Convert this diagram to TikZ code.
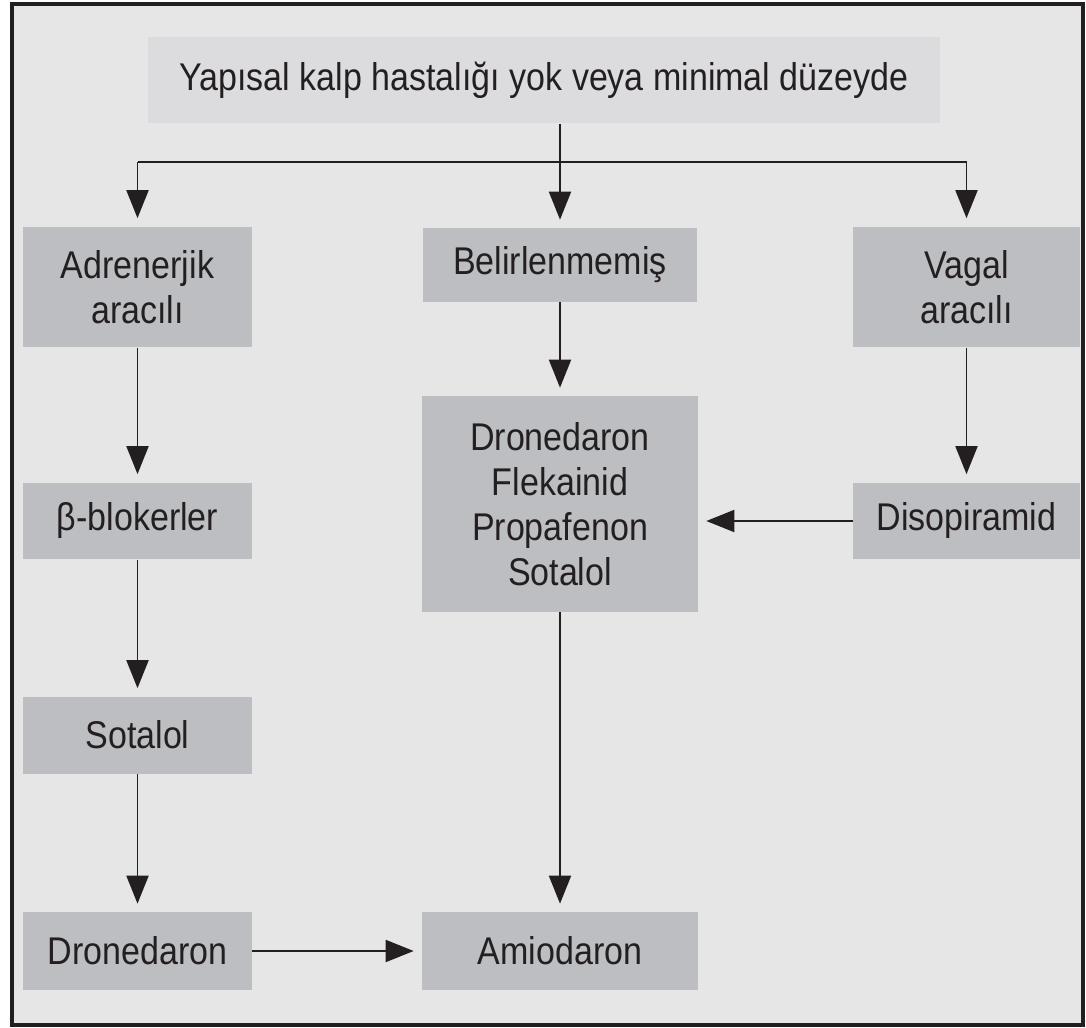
\documentclass[tikz,border=0pt]{standalone}
\usepackage{fontspec}
\setmainfont[FakeStretch=0.88]{Liberation Sans}
\usepackage{tikz}
\usetikzlibrary{arrows.meta,positioning}
\usepackage{xcolor}
\definecolor{PanelGray}{HTML}{E6E6E6}
\definecolor{TopGray}{HTML}{DCDCDE}
\definecolor{BoxGray}{HTML}{BDBEC2}
\definecolor{InkDark}{HTML}{231F20}

\begin{document}
\begin{tikzpicture}[x=0.02cm, y=-0.02cm,
      gbox/.style={fill=BoxGray, minimum width=4.58cm, minimum height=1.54cm,
                   align=center, text=InkDark, inner sep=0pt,
                   font=\fontsize{22}{25.5}\selectfont},
      flow/.style={-{Triangle[length=5.6mm,width=4.4mm]}, line width=1.1pt,
                   draw=InkDark, shorten >=0.16cm},
      node distance=0.3cm
    ]
      \useasboundingbox (0,0) rectangle (1086,1028);
      \draw[fill=PanelGray, draw=InkDark, line width=2.3pt] (12,4) rectangle (1083,1025);

      \node[gbox, fill=TopGray, minimum width=15.84cm, minimum height=1.74cm] (top) at (544,80)
        {Yapısal kalp hastalığı yok veya minimal düzeyde};

      \node[gbox, minimum height=2.42cm] (adr) at (137.5,287) {Adrenerjik\\aracılı};
      \node[gbox, minimum width=5.5cm, minimum height=1.48cm] (bel) at (560,265) {Belirlenmemiş};
      \node[gbox, minimum width=4.54cm, minimum height=2.42cm] (vag) at (966.5,287) {Vagal\\aracılı};

      \node[gbox] (blk) at (137.5,521) {β-blokerler};
      \node[gbox, minimum width=5.52cm, minimum height=4.32cm] (grp) at (560,504)
        {Dronedaron\\Flekainid\\Propafenon\\Sotalol};
      \node[gbox, minimum width=4.54cm] (dis) at (966.5,521) {Disopiramid};

      \node[gbox] (sot) at (137.5,735) {Sotalol};
      \node[gbox, minimum height=1.56cm] (dro) at (137.5,951) {Dronedaron};
      \node[gbox, minimum width=5.52cm, minimum height=1.56cm] (ami) at (560,951) {Amiodaron};

      % branching from the top box
      \coordinate (j) at (560,162);
      \draw[line width=1.1pt, draw=InkDark] (adr |- j) -- (vag |- j);
      \draw[line width=1.1pt, draw=InkDark] (top.south -| j) -- (j);
      \draw[flow] (adr |- j) -- (adr);
      \draw[flow] (j) -- (bel);
      \draw[flow] (vag |- j) -- (vag);

      \draw[flow] (adr) -- (blk);
      \draw[flow] (blk) -- (sot);
      \draw[flow] (sot) -- (dro);
      \draw[flow] (dro) -- (ami);
      \draw[flow] (bel) -- (grp);
      \draw[flow] (grp) -- (ami);
      \draw[flow] (vag) -- (dis);
      \draw[flow] (dis.west) -- (dis.west -| grp.east);
    \end{tikzpicture}
\end{document}
